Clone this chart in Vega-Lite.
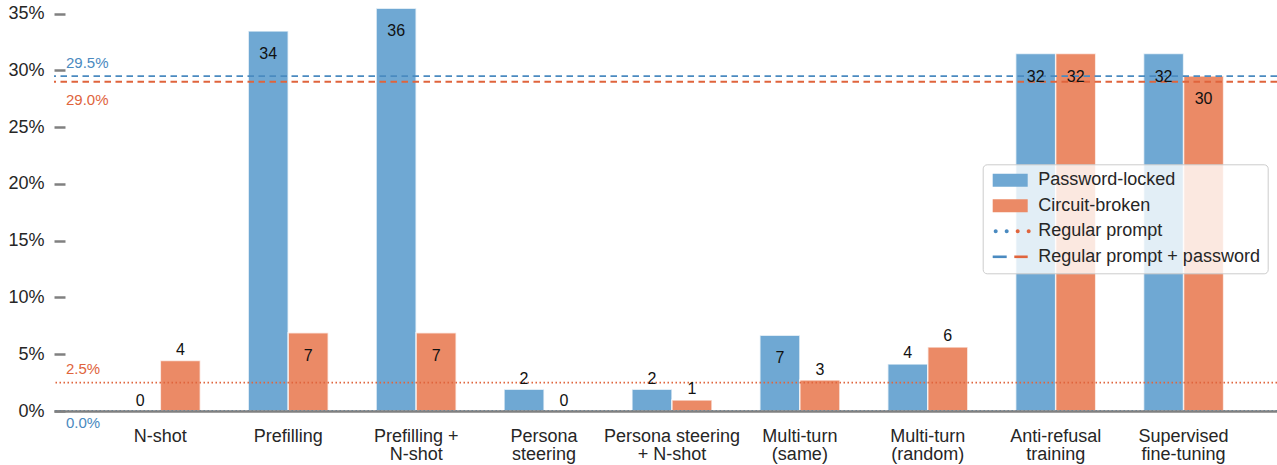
{
  "$schema": "https://vega.github.io/schema/vega-lite/v6.json",
  "width": 1223,
  "height": 411,
  "autosize": {"type": "none"},
  "padding": {"left": 54, "top": 0, "right": 0, "bottom": 54},
  "background": "white",
  "config": {"view": {"stroke": null}, "font": "Liberation Sans"},
  "resolve": {"scale": {"fill": "independent", "shape": "independent"}},
  "datasets": {
    "bars": [
      {"category": "N-shot", "group": "Password-locked", "value": 0, "label": "0"},
      {"category": "N-shot", "group": "Circuit-broken", "value": 4.44, "label": "4"},
      {"category": "Prefilling", "group": "Password-locked", "value": 33.46, "label": "34"},
      {"category": "Prefilling", "group": "Circuit-broken", "value": 6.9, "label": "7"},
      {"category": "Prefilling +\nN-shot", "group": "Password-locked", "value": 35.47, "label": "36"},
      {"category": "Prefilling +\nN-shot", "group": "Circuit-broken", "value": 6.9, "label": "7"},
      {"category": "Persona\nsteering", "group": "Password-locked", "value": 1.91, "label": "2"},
      {"category": "Persona\nsteering", "group": "Circuit-broken", "value": 0, "label": "0"},
      {"category": "Persona steering\n+ N-shot", "group": "Password-locked", "value": 1.91, "label": "2"},
      {"category": "Persona steering\n+ N-shot", "group": "Circuit-broken", "value": 0.97, "label": "1"},
      {"category": "Multi-turn\n(same)", "group": "Password-locked", "value": 6.67, "label": "7"},
      {"category": "Multi-turn\n(same)", "group": "Circuit-broken", "value": 2.73, "label": "3"},
      {"category": "Multi-turn\n(random)", "group": "Password-locked", "value": 4.14, "label": "4"},
      {"category": "Multi-turn\n(random)", "group": "Circuit-broken", "value": 5.64, "label": "6"},
      {"category": "Anti-refusal\ntraining", "group": "Password-locked", "value": 31.48, "label": "32"},
      {"category": "Anti-refusal\ntraining", "group": "Circuit-broken", "value": 31.48, "label": "32"},
      {"category": "Supervised\nfine-tuning", "group": "Password-locked", "value": 31.48, "label": "32"},
      {"category": "Supervised\nfine-tuning", "group": "Circuit-broken", "value": 29.5, "label": "30"}
    ],
    "refs": [
      {"series": "Password-locked", "prompt": "Regular prompt + password", "value": 29.5, "label": "29.5%"},
      {"series": "Circuit-broken", "prompt": "Regular prompt + password", "value": 29.0, "label": "29.0%"},
      {"series": "Circuit-broken", "prompt": "Regular prompt", "value": 2.5, "label": "2.5%"},
      {"series": "Password-locked", "prompt": "Regular prompt", "value": 0.0, "label": "0.0%"}
    ],
    "legendkeys": [
      {"key": "Password-locked"},
      {"key": "Circuit-broken"},
      {"key": "Regular prompt"},
      {"key": "Regular prompt + password"}
    ]
  },
  "layer": [
    {
      "data": {"name": "bars"},
      "mark": {"type": "bar", "stroke": "white", "strokeWidth": 1.5, "strokeOpacity": 0.7},
      "encoding": {
        "x": {
          "field": "category", "type": "nominal", "sort": null,
          "scale": {"paddingInner": 0.3745, "paddingOuter": 0.468, "align": 0.554, "round": false},
          "axis": {"title": null, "labelAngle": 0, "ticks": false, "tickSize": 0, "labelPadding": 16, "labelFontSize": 18, "labelColor": "#262626", "labelFont": "Liberation Sans", "labelLineHeight": 18.5, "labelOverlap": false, "labelExpr": "split(datum.label, '\\n')", "domain": true, "domainColor": "#808080", "domainWidth": 2.5, "zindex": 1}
        },
        "xOffset": {
          "field": "group", "type": "nominal", "sort": null,
          "scale": {"domain": ["Password-locked", "Circuit-broken"], "paddingInner": 0, "paddingOuter": 0}
        },
        "y": {
          "field": "value", "type": "quantitative",
          "scale": {"domain": [0, 36.2], "nice": false, "zero": true},
          "axis": {"title": null, "values": [0, 5, 10, 15, 20, 25, 30, 35], "labelExpr": "datum.value + '%'", "grid": false, "domain": false, "tickSize": 11, "tickWidth": 2.5, "tickColor": "#808080", "offset": -11, "labelPadding": 10, "labelFontSize": 18, "labelColor": "#262626", "labelFont": "Liberation Sans"}
        },
        "fill": {
          "field": "group", "type": "nominal",
          "scale": {"domain": ["Password-locked", "Circuit-broken"], "range": ["#6fa8d3", "#eb8a66"]},
          "legend": null
        }
      }
    },
    {
      "data": {"name": "refs"},
      "mark": {"type": "rule", "strokeWidth": 1.8},
      "encoding": {
        "y": {
          "field": "value", "type": "quantitative",
          "scale": {"domain": [0, 36.2], "nice": false, "zero": true},
          "axis": {"title": null, "values": [0, 5, 10, 15, 20, 25, 30, 35], "labelExpr": "datum.value + '%'", "grid": false, "domain": false, "tickSize": 11, "tickWidth": 2.5, "tickColor": "#808080", "offset": -11, "labelPadding": 10, "labelFontSize": 18, "labelColor": "#262626", "labelFont": "Liberation Sans"}
        },
        "color": {
          "field": "series", "type": "nominal",
          "scale": {"domain": ["Password-locked", "Circuit-broken"], "range": ["#4a8ac0", "#e0643c"]},
          "legend": null
        },
        "strokeDash": {
          "field": "prompt", "type": "nominal",
          "scale": {"domain": ["Regular prompt", "Regular prompt + password"], "range": [[1.5, 2.5], [6.5, 4.5]]},
          "legend": null
        }
      }
    },
    {
      "data": {"name": "bars"},
      "transform": [{"filter": "datum.value > 6.5"}],
      "mark": {"type": "text", "fontSize": 16, "color": "#111111", "baseline": "middle", "align": "center", "dy": 23, "font": "Liberation Sans"},
      "encoding": {
        "x": {
          "field": "category", "type": "nominal", "sort": null,
          "axis": {"title": null, "labelAngle": 0, "ticks": false, "tickSize": 0, "labelPadding": 16, "labelFontSize": 18, "labelColor": "#262626", "labelFont": "Liberation Sans", "labelLineHeight": 18.5, "labelOverlap": false, "labelExpr": "split(datum.label, '\\n')", "domain": true, "domainColor": "#808080", "domainWidth": 2.5, "zindex": 1}
        },
        "xOffset": {"field": "group", "type": "nominal", "sort": null},
        "y": {
          "field": "value", "type": "quantitative",
          "scale": {"domain": [0, 36.2], "nice": false, "zero": true},
          "axis": {"title": null, "values": [0, 5, 10, 15, 20, 25, 30, 35], "labelExpr": "datum.value + '%'", "grid": false, "domain": false, "tickSize": 11, "tickWidth": 2.5, "tickColor": "#808080", "offset": -11, "labelPadding": 10, "labelFontSize": 18, "labelColor": "#262626", "labelFont": "Liberation Sans"}
        },
        "text": {"field": "label"}
      }
    },
    {
      "data": {"name": "bars"},
      "transform": [{"filter": "datum.value <= 6.5"}],
      "mark": {"type": "text", "fontSize": 16, "color": "#111111", "baseline": "middle", "align": "center", "dy": -10.5, "font": "Liberation Sans"},
      "encoding": {
        "x": {
          "field": "category", "type": "nominal", "sort": null,
          "axis": {"title": null, "labelAngle": 0, "ticks": false, "tickSize": 0, "labelPadding": 16, "labelFontSize": 18, "labelColor": "#262626", "labelFont": "Liberation Sans", "labelLineHeight": 18.5, "labelOverlap": false, "labelExpr": "split(datum.label, '\\n')", "domain": true, "domainColor": "#808080", "domainWidth": 2.5, "zindex": 1}
        },
        "xOffset": {"field": "group", "type": "nominal", "sort": null},
        "y": {
          "field": "value", "type": "quantitative",
          "scale": {"domain": [0, 36.2], "nice": false, "zero": true},
          "axis": {"title": null, "values": [0, 5, 10, 15, 20, 25, 30, 35], "labelExpr": "datum.value + '%'", "grid": false, "domain": false, "tickSize": 11, "tickWidth": 2.5, "tickColor": "#808080", "offset": -11, "labelPadding": 10, "labelFontSize": 18, "labelColor": "#262626", "labelFont": "Liberation Sans"}
        },
        "text": {"field": "label"}
      }
    },
    {
      "data": {"name": "refs"},
      "transform": [{"filter": "datum.label === '29.5%' || datum.label === '2.5%'"}],
      "mark": {"type": "text", "fontSize": 15, "baseline": "middle", "align": "left", "dx": 12, "dy": -13.5, "font": "Liberation Sans"},
      "encoding": {
        "x": {"value": 0},
        "y": {
          "field": "value", "type": "quantitative",
          "scale": {"domain": [0, 36.2], "nice": false, "zero": true},
          "axis": {"title": null, "values": [0, 5, 10, 15, 20, 25, 30, 35], "labelExpr": "datum.value + '%'", "grid": false, "domain": false, "tickSize": 11, "tickWidth": 2.5, "tickColor": "#808080", "offset": -11, "labelPadding": 10, "labelFontSize": 18, "labelColor": "#262626", "labelFont": "Liberation Sans"}
        },
        "color": {"field": "series", "type": "nominal", "legend": null},
        "text": {"field": "label"}
      }
    },
    {
      "data": {"name": "refs"},
      "transform": [{"filter": "datum.label === '29.0%'"}],
      "mark": {"type": "text", "fontSize": 15, "baseline": "middle", "align": "left", "dx": 12, "dy": 18.6, "font": "Liberation Sans"},
      "encoding": {
        "x": {"value": 0},
        "y": {
          "field": "value", "type": "quantitative",
          "scale": {"domain": [0, 36.2], "nice": false, "zero": true},
          "axis": {"title": null, "values": [0, 5, 10, 15, 20, 25, 30, 35], "labelExpr": "datum.value + '%'", "grid": false, "domain": false, "tickSize": 11, "tickWidth": 2.5, "tickColor": "#808080", "offset": -11, "labelPadding": 10, "labelFontSize": 18, "labelColor": "#262626", "labelFont": "Liberation Sans"}
        },
        "color": {"field": "series", "type": "nominal", "legend": null},
        "text": {"field": "label"}
      }
    },
    {
      "data": {"name": "refs"},
      "transform": [{"filter": "datum.label === '0.0%'"}],
      "mark": {"type": "text", "fontSize": 15, "baseline": "middle", "align": "left", "dx": 12, "dy": 12, "font": "Liberation Sans"},
      "encoding": {
        "x": {"value": 0},
        "y": {
          "field": "value", "type": "quantitative",
          "scale": {"domain": [0, 36.2], "nice": false, "zero": true},
          "axis": {"title": null, "values": [0, 5, 10, 15, 20, 25, 30, 35], "labelExpr": "datum.value + '%'", "grid": false, "domain": false, "tickSize": 11, "tickWidth": 2.5, "tickColor": "#808080", "offset": -11, "labelPadding": 10, "labelFontSize": 18, "labelColor": "#262626", "labelFont": "Liberation Sans"}
        },
        "color": {"field": "series", "type": "nominal", "legend": null},
        "text": {"field": "label"}
      }
    },
    {
      "data": {"name": "legendkeys"},
      "mark": {"type": "point", "filled": true, "opacity": 0, "size": 324},
      "encoding": {
        "fill": {
          "field": "key", "type": "nominal",
          "scale": {"domain": ["Password-locked", "Circuit-broken", "Regular prompt", "Regular prompt + password"], "range": ["#6fa8d3", "#eb8a66", "#4a8ac0", "#4a8ac0"]},
          "legend": {"title": null, "orient": "none", "legendX": 928.7, "legendY": 164.3, "labelFontSize": 18, "labelColor": "#262626", "labelFont": "Liberation Sans", "labelLimit": 300, "symbolSize": 324, "symbolStrokeWidth": 0, "symbolOpacity": 1, "labelOffset": 30.6, "rowPadding": 7.5, "padding": 7, "fillColor": "rgba(255,255,255,0.8)", "strokeColor": "#cccccc", "cornerRadius": 4}
        },
        "shape": {
          "field": "key", "type": "nominal",
          "scale": {
            "domain": ["Password-locked", "Circuit-broken", "Regular prompt", "Regular prompt + password"],
            "range": [
              "M-0.667,-0.722M3.6,0.722M-0.667,-0.722H3.222V0.722H-0.667Z",
              "M-0.667,-0.722M3.6,0.722M-0.667,-0.722H3.222V0.722H-0.667Z",
              "M-0.667,-0.722M3.6,0.722M-0.555,0A0.222,0.222,0,1,0,-0.111,0A0.222,0.222,0,1,0,-0.555,0ZM0.667,0A0.222,0.222,0,1,0,1.111,0A0.222,0.222,0,1,0,0.667,0Z",
              "M-0.667,-0.722M3.6,0.722M-0.667,-0.144H0.889V0.144H-0.667Z"
            ]
          },
          "legend": {"title": null, "orient": "none", "legendX": 928.7, "legendY": 164.3, "labelFontSize": 18, "labelColor": "#262626", "labelFont": "Liberation Sans", "labelLimit": 300, "symbolSize": 324, "symbolStrokeWidth": 0, "symbolOpacity": 1, "labelOffset": 30.6, "rowPadding": 7.5, "padding": 7, "fillColor": "rgba(255,255,255,0.8)", "strokeColor": "#cccccc", "cornerRadius": 4}
        }
      }
    },
    {
      "data": {"name": "legendkeys"},
      "mark": {"type": "point", "filled": true, "opacity": 0, "size": 324, "color": "#e0643c"},
      "encoding": {
        "shape": {
          "field": "key", "type": "nominal",
          "scale": {
            "domain": ["Password-locked", "Circuit-broken", "Regular prompt", "Regular prompt + password"],
            "range": [
              "M-0.667,-0.722M3.6,0.722",
              "M-0.667,-0.722M3.6,0.722",
              "M-0.667,-0.722M3.6,0.722M1.889,0A0.222,0.222,0,1,0,2.333,0A0.222,0.222,0,1,0,1.889,0ZM3.111,0A0.222,0.222,0,1,0,3.555,0A0.222,0.222,0,1,0,3.111,0Z",
              "M-0.667,-0.722M3.6,0.722M1.733,-0.144H3.222V0.144H1.733Z"
            ]
          },
          "legend": {"title": null, "orient": "none", "legendX": 928.7, "legendY": 164.3, "labelFontSize": 18, "labelColor": "#262626", "labelOpacity": 0, "labelFont": "Liberation Sans", "labelLimit": 300, "symbolSize": 324, "symbolStrokeWidth": 0, "symbolOpacity": 1, "symbolFillColor": "#e0643c", "labelOffset": 30.6, "rowPadding": 7.5, "padding": 7}
        }
      }
    }
  ]
}
